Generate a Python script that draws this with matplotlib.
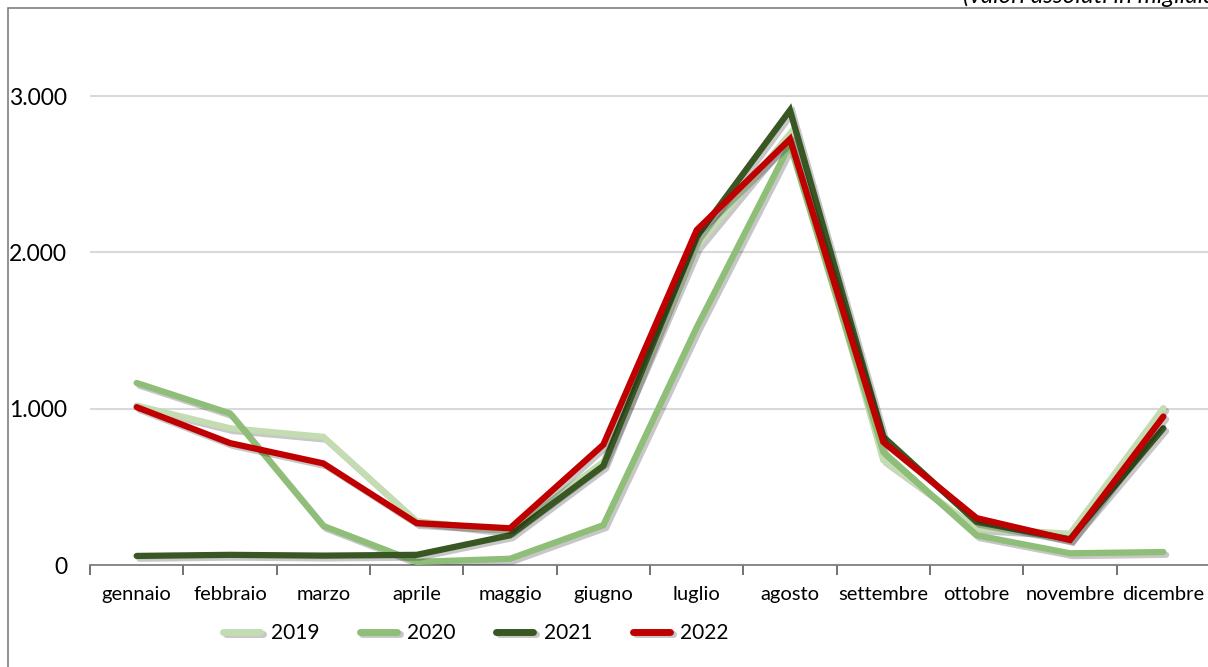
import matplotlib
matplotlib.use("Agg")
import matplotlib.pyplot as plt
import matplotlib.patheffects as pe
from matplotlib.patches import Rectangle
import numpy as np

# dati (valori assoluti in migliaia)
mesi = ["gennaio", "febbraio", "marzo", "aprile", "maggio", "giugno", "luglio",
        "agosto", "settembre", "ottobre", "novembre", "dicembre"]
anni = ["2019", "2020", "2021", "2022"]
v2019 = [1020, 875, 820, 280, 215, 660, 2035, 2760, 670, 235, 200, 1004]
v2020 = [1165, 970, 250, 20, 40, 255, 1520, 2690, 723, 190, 75, 83]
v2021 = [58, 65, 60, 65, 190, 635, 2100, 2910, 820, 275, 165, 875]
v2022 = [1010, 780, 650, 268, 235, 770, 2143, 2725, 787, 300, 160, 950]
colori = ["#c3dcb2", "#8fbe78", "#385723", "#c00000"]

FONT = ["Lato", "DejaVu Sans"]

W, H = 1208, 667
fig = plt.figure(figsize=(W / 100, H / 100), dpi=100)
ax = fig.add_axes([90 / W, 1 - 565 / H, 1120 / W, 547 / H])

x = np.arange(len(mesi))
ombra = [pe.SimpleLineShadow(offset=(2, -2), shadow_color="black", alpha=0.22),
         pe.Normal()]
for serie, nome, col in zip([v2019, v2020, v2021, v2022], anni, colori):
    ax.plot(x, serie, color=col, lw=4.5, label=nome, solid_joinstyle="miter",
            solid_capstyle="round", path_effects=ombra, zorder=3)

ax.set_xlim(-0.5, 11.5)
ax.set_ylim(0, 3500)
ax.set_yticks([0, 1000, 2000, 3000])
ax.set_yticklabels(["0", "1.000", "2.000", "3.000"])
ax.grid(axis="y", color="#d9d9d9", lw=1.5)
ax.set_axisbelow(True)

ax.set_xticks(x)
ax.set_xticklabels(mesi)
ax.set_xticks(np.arange(-0.5, 12, 1), minor=True)
ax.tick_params(axis="x", which="major", length=0, pad=15, labelsize=14.5)
ax.tick_params(axis="x", which="minor", length=7, width=1.2, color="#595959")
ax.tick_params(axis="y", length=0, pad=16.5, labelsize=16.5)
for lab in ax.get_xticklabels() + ax.get_yticklabels():
    lab.set_fontfamily(FONT)

for s in ["top", "right", "left"]:
    ax.spines[s].set_visible(False)
ax.spines["bottom"].set_color("#808080")
ax.spines["bottom"].set_linewidth(1.3)

leg = fig.legend(loc="center", bbox_to_anchor=(476 / W, 1 - 633 / H), ncol=4,
                 frameon=False, handlelength=1.78, columnspacing=1.95,
                 handletextpad=0.5, prop={"family": FONT, "size": 15})
for h in leg.get_lines():
    h.set_linewidth(5)
    h.set_solid_capstyle("round")

# cornice grigia e nota in alto
fig.patches.append(Rectangle((8 / W, -0.1), 1.2, 1 - 8 / H + 0.1,
                             transform=fig.transFigure, fill=False,
                             edgecolor="#7f7f7f", lw=1.2))
fig.text(963 / W, 1 + 4 / H, "(valori assoluti in migliaia)", ha="left",
         va="center", fontsize=17.5, style="italic", family=FONT)

fig.savefig("out.png", dpi=100)
